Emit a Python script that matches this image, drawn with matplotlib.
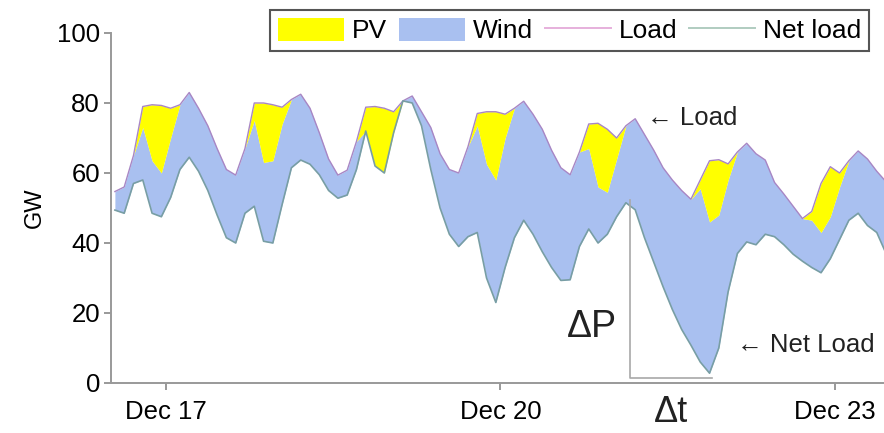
import matplotlib
matplotlib.use("Agg")
import matplotlib.pyplot as plt
import numpy as np
from matplotlib.patches import Patch
from matplotlib.lines import Line2D

plt.rcParams['font.family'] = ['Liberation Sans', 'DejaVu Sans']

# 2-hourly samples starting Dec 16, 13:00
hours = np.arange(13, 13 + 2 * 84, 2)
days = 16 + hours / 24.0

load = [54.7, 56, 65, 79, 79.5, 79.3, 78.5, 79.5, 83, 78.5,
        73.5, 67, 61, 59.4, 67, 80, 80, 79.5, 78.8, 81,
        82.5, 78.5, 71.5, 64, 59.4, 60.8, 69, 78.8, 79, 78.5,
        77.5, 80.6, 82, 77.5, 73, 65.5, 61, 60, 67.5, 77,
        77.5, 77.5, 76.8, 78.5, 80.5, 76.8, 72.5, 66.5, 61.5, 59.5,
        66, 74, 74.2, 72.5, 70, 73.5, 75.5, 71, 66.5, 61.5,
        58, 55, 52.5, 58, 63.5, 63.8, 62.6, 66, 68.5, 65.5,
        63.7, 57.3, 54, 50.5, 47, 49, 57, 61.8, 60, 63.5,
        66.3, 64, 60.5, 57.5]

pv = [0, 0, 0, 6, 16, 19.3, 8.5, 0, 0, 0,
      0, 0, 0, 0, 0, 5, 17, 16, 4.8, 0,
      0, 0, 0, 0, 0, 0, 0, 6.8, 17, 18.5,
      6, 0, 0, 0, 0, 0, 0, 0, 0, 3.5,
      15, 19.5, 6.8, 0, 0, 0, 0, 0, 0, 0,
      0, 7, 18.2, 18, 6, 0, 0, 0, 0, 0,
      0, 0, 0, 2.5, 17.5, 15.8, 4.6, 0, 0, 0,
      0, 0, 0, 0, 0, 2.5, 14, 14.3, 4, 0,
      0, 0, 0, 0]

net_load = [49.4, 48.5, 57, 58, 48.5, 47.5, 53, 61, 64.5, 60.5,
            55, 48, 41.5, 40, 48.5, 50.5, 40.5, 40, 51, 61.5,
            63.7, 62.5, 59.5, 55, 52.8, 53.7, 61, 72, 62, 60,
            71.5, 80.6, 80, 73.5, 61, 50, 42.5, 39, 41.8, 43,
            30, 23, 33, 41.5, 46.5, 42.5, 37.5, 33, 29.3, 29.5,
            39, 44, 40, 42.5, 47.5, 51.5, 49.5, 41.5, 34.5, 27.5,
            21, 15.3, 10.8, 6, 2.8, 10, 26, 37, 40.3, 39.5,
            42.5, 41.8, 39.5, 36.8, 34.8, 33, 31.5, 35.5, 41, 46.5,
            48.5, 45, 43, 37]

tick_days = [17, 20, 23]
tick_labels = ["Dec 17", "Dec 20", "Dec 23"]

# ramp marked on the plot: net load peak -> minimum
ramp_start = (21.16, 52.3)
ramp_end = (21.9, 1.5)

load = np.array(load)
pv = np.array(pv)
net_load = np.array(net_load)
pv_bottom = load - pv

yellow = "#ffff00"
blue = "#a9c0f0"

fig = plt.figure(figsize=(8.84, 4.33), dpi=100)
ax = fig.add_axes([0.1256, 0.1155, 0.8744, 0.8083])

ax.fill_between(days, pv_bottom, net_load, color=blue, lw=0)
ax.fill_between(days, load, pv_bottom, color=yellow, lw=0)
ax.plot(days, load, color="#a886c4", lw=1.0)
ax.plot(days, net_load, color="#789ea4", lw=1.2)

# delta P / delta t bracket
ax.plot([ramp_start[0], ramp_start[0], ramp_end[0]],
        [ramp_start[1], ramp_end[1], ramp_end[1]], color="#a8a8a8", lw=1.2)
ax.text(20.82, 16, "ΔP", fontsize=27, ha="center", va="center", color="#222222")
ax.text(21.53, -8.4, "Δt", fontsize=26, ha="center", va="center", color="#222222",
        clip_on=False)
ax.text(21.31, 75.8, "← Load", fontsize=18.5, va="center", color="#222222")
ax.text(22.12, 10.8, "← Net Load", fontsize=18.5, va="center", color="#222222")

ax.set_xlim(16.507, 23.44)
ax.set_ylim(0, 100)
ax.set_xticks(tick_days)
ax.set_xticklabels(tick_labels)
ax.set_yticks([0, 20, 40, 60, 80, 100])
ax.set_ylabel("GW", fontsize=17, labelpad=8)
ax.tick_params(labelsize=18.5, color="#888888", length=5, width=1.2)
ax.tick_params(axis='x', pad=7)
ax.tick_params(axis='y', pad=3)
ax.spines['top'].set_visible(False)
ax.spines['right'].set_visible(False)
for s in ['left', 'bottom']:
    ax.spines[s].set_color("#999999")
    ax.spines[s].set_linewidth(1.4)

handles = [Patch(facecolor=yellow, edgecolor="none"),
           Patch(facecolor=blue, edgecolor="none"),
           Line2D([], [], color="#e6b0dc", lw=1.4),
           Line2D([], [], color="#b0ccc0", lw=1.4)]
leg = fig.legend(handles, ["PV", "Wind", "Load", "Net load"], ncol=4,
                 loc="upper left", bbox_to_anchor=(0.3054, 0.977),
                 fontsize=19, handlelength=2.5, handleheight=0.95,
                 columnspacing=0.45, handletextpad=0.3, borderpad=0.3,
                 borderaxespad=0, fancybox=False, framealpha=1)
leg.get_frame().set_edgecolor("#555555")
leg.get_frame().set_linewidth(1.5)

fig.savefig("out.png", dpi=100)
